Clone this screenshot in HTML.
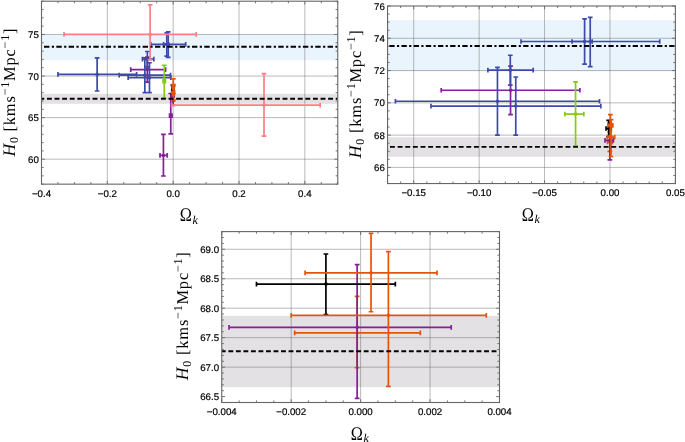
<!DOCTYPE html>
<html><head><meta charset="utf-8"><title>H0 vs Omega_k</title>
<style>
html,body{margin:0;padding:0;background:#fff;}
svg{display:block;text-rendering:geometricPrecision}
.tl{font-family:"Liberation Sans",sans-serif;font-size:9.7px;fill:#000;stroke:#000;stroke-width:0.2px;}
.al{font-family:"Liberation Serif",serif;font-size:16.5px;fill:#000;}
.yl{letter-spacing:0.78px}
.om{font-family:"Liberation Serif",serif;font-size:19.2px;fill:#000}
.sub{font-family:"Liberation Serif",serif;font-size:12px;font-style:italic;fill:#000}
.sub2{font-size:12px;}
</style></head><body>
<svg width="685" height="442" viewBox="0 0 685 442">
<rect width="685" height="442" fill="#fff"/>
<clipPath id="c0"><rect x="41.5" y="1.2" width="296.25" height="182.95"/></clipPath>
<g clip-path="url(#c0)">
<rect x="41.5" y="34.46" width="296.25" height="25.78" fill="#cfe6fa" fill-opacity="0.45"/>
<rect x="41.5" y="93.76" width="296.25" height="10.06" fill="#c1bdc1" fill-opacity="0.45"/>
<line x1="107.33" y1="1.2" x2="107.33" y2="184.15" stroke="#666" stroke-opacity="0.5" stroke-width="0.9"/>
<line x1="173.17" y1="1.2" x2="173.17" y2="184.15" stroke="#666" stroke-opacity="0.5" stroke-width="0.9"/>
<line x1="239" y1="1.2" x2="239" y2="184.15" stroke="#666" stroke-opacity="0.5" stroke-width="0.9"/>
<line x1="304.83" y1="1.2" x2="304.83" y2="184.15" stroke="#666" stroke-opacity="0.5" stroke-width="0.9"/>
<line x1="41.5" y1="159.2" x2="337.75" y2="159.2" stroke="#666" stroke-opacity="0.5" stroke-width="0.9"/>
<line x1="41.5" y1="117.62" x2="337.75" y2="117.62" stroke="#666" stroke-opacity="0.5" stroke-width="0.9"/>
<line x1="41.5" y1="76.04" x2="337.75" y2="76.04" stroke="#666" stroke-opacity="0.5" stroke-width="0.9"/>
<line x1="41.5" y1="34.46" x2="337.75" y2="34.46" stroke="#666" stroke-opacity="0.5" stroke-width="0.9"/>
<path d="M57.96 74.38H136.63M97.13 91.01V57.91M57.96 72.03V76.73M136.63 72.03V76.73M94.78 91.01H99.48M94.78 57.91H99.48" stroke="#3f49aa" stroke-width="1.7" fill="none"/><circle cx="97.13" cy="74.38" r="1.8" fill="#3f49aa"/>
<path d="M160 155.46H167.24M163.42 176V134.42M160 153.11V157.81M167.24 153.11V157.81M161.07 176H165.77M161.07 134.42H165.77" stroke="#83209a" stroke-width="1.7" fill="none"/><circle cx="163.42" cy="155.46" r="1.8" fill="#83209a"/>
<path d="M169.55 115.63H172.01M170.76 133.84V93.51M169.55 113.28V117.98M172.01 113.28V117.98M168.41 133.84H173.11M168.41 93.51H173.11" stroke="#83209a" stroke-width="1.7" fill="none"/><circle cx="170.76" cy="115.63" r="1.8" fill="#83209a"/>
<path d="M130.7 69.56H165.6M147.33 82.11V57.08M130.7 67.21V71.91M165.6 67.21V71.91M144.98 82.11H149.68M144.98 57.08H149.68" stroke="#83209a" stroke-width="1.7" fill="none"/><circle cx="147.33" cy="69.56" r="1.8" fill="#83209a"/>
<path d="M119.18 75.21H170.53M144.86 92.67V57.75M119.18 72.86V77.56M170.53 72.86V77.56M142.51 92.67H147.21M142.51 57.75H147.21" stroke="#3f49aa" stroke-width="1.7" fill="none"/><circle cx="144.86" cy="75.21" r="1.8" fill="#3f49aa"/>
<path d="M128.14 77.71H170.86M149.47 92.67V62.74M128.14 75.36V80.06M170.86 75.36V80.06M147.12 92.67H151.82M147.12 62.74H151.82" stroke="#3f49aa" stroke-width="1.7" fill="none"/><circle cx="149.47" cy="77.71" r="1.8" fill="#3f49aa"/>
<path d="M142.46 59.16H153.84M147.33 66.9V51.51M142.46 56.81V61.51M153.84 56.81V61.51M144.98 66.9H149.68M144.98 51.51H149.68" stroke="#3f49aa" stroke-width="1.7" fill="none"/><circle cx="147.33" cy="59.16" r="1.8" fill="#3f49aa"/>
<path d="M150.78 44.44H185.67M166.78 56.08V32.8M150.78 42.09V46.79M185.67 42.09V46.79M164.43 56.08H169.13M164.43 32.8H169.13" stroke="#3f49aa" stroke-width="1.7" fill="none"/><circle cx="166.78" cy="44.44" r="1.8" fill="#3f49aa"/>
<path d="M163.62 44.44H168.69M168.2 57.42V31.97M163.62 42.09V46.79M168.69 42.09V46.79M165.85 57.42H170.55M165.85 31.97H170.55" stroke="#3f49aa" stroke-width="1.7" fill="none"/><circle cx="168.2" cy="44.44" r="1.8" fill="#3f49aa"/>
<path d="M163.09 81.03H165.46M164.28 98.25V65.23M163.09 78.68V83.38M165.46 78.68V83.38M161.93 98.25H166.63M161.93 65.23H166.63" stroke="#86c91c" stroke-width="1.7" fill="none"/><circle cx="164.28" cy="81.03" r="1.8" fill="#86c91c"/>
<path d="M172.54 96.17H173.73M173.13 101.07V91.01M172.54 93.82V98.52M173.73 93.82V98.52M170.78 101.07H175.48M170.78 91.01H175.48" stroke="#e4540c" stroke-width="1.7" fill="none"/><circle cx="173.13" cy="96.17" r="1.8" fill="#e4540c"/>
<path d="M171.92 95.38H174.03M173.13 105.4V86.52M171.92 93.03V97.73M174.03 93.03V97.73M170.78 105.4H175.48M170.78 86.52H175.48" stroke="#83209a" stroke-width="1.7" fill="none"/><circle cx="173.13" cy="95.38" r="1.8" fill="#83209a"/>
<path d="M172.18 89.27H173.5M172.84 93.59V85.02M172.18 86.92V91.62M173.5 86.92V91.62M170.49 93.59H175.19M170.49 85.02H175.19" stroke="#000" stroke-width="1.7" fill="none"/><circle cx="172.84" cy="89.27" r="1.8" fill="#000"/>
<path d="M172.51 93.67H174.36M173.43 99.74V84.69M172.51 91.32V96.02M174.36 91.32V96.02M171.08 99.74H175.78M171.08 84.69H175.78" stroke="#e4540c" stroke-width="1.7" fill="none"/><circle cx="173.43" cy="93.67" r="1.8" fill="#e4540c"/>
<path d="M172.64 87.69H173.89M173.27 93.17V78.87M172.64 85.34V90.04M173.89 85.34V90.04M170.92 93.17H175.62M170.92 78.87H175.62" stroke="#e4540c" stroke-width="1.7" fill="none"/><circle cx="173.27" cy="87.69" r="1.8" fill="#e4540c"/>
<path d="M64.02 34.46H196.21M150.12 59.83V4.78M64.02 32.11V36.81M196.21 32.11V36.81M147.78 59.83H152.47M147.78 4.78H152.47" stroke="#fa7f86" stroke-width="1.7" fill="none"/><circle cx="150.12" cy="34.46" r="1.8" fill="#fa7f86"/>
<path d="M171.52 105.15H320.17M264.02 136.17V73.55M171.52 102.8V107.5M320.17 102.8V107.5M261.67 136.17H266.37M261.67 73.55H266.37" stroke="#fa7f86" stroke-width="1.7" fill="none"/><circle cx="264.02" cy="105.15" r="1.8" fill="#fa7f86"/>
<line x1="41.5" y1="46.77" x2="337.75" y2="46.77" stroke="#000" stroke-width="1.85" stroke-dasharray="5.4 2.4 2.2 2.33" stroke-dashoffset="9.83"/>
<line x1="41.5" y1="98.75" x2="337.75" y2="98.75" stroke="#000" stroke-width="1.85" stroke-dasharray="4.9 2.7" stroke-dashoffset="2.15"/>
</g>
<path d="M41.5 184.15v-3.3M41.5 1.2v3.3M57.96 184.15v-2.1M57.96 1.2v2.1M74.42 184.15v-2.1M74.42 1.2v2.1M90.88 184.15v-2.1M90.88 1.2v2.1M107.33 184.15v-3.3M107.33 1.2v3.3M123.79 184.15v-2.1M123.79 1.2v2.1M140.25 184.15v-2.1M140.25 1.2v2.1M156.71 184.15v-2.1M156.71 1.2v2.1M173.17 184.15v-3.3M173.17 1.2v3.3M189.62 184.15v-2.1M189.62 1.2v2.1M206.08 184.15v-2.1M206.08 1.2v2.1M222.54 184.15v-2.1M222.54 1.2v2.1M239 184.15v-3.3M239 1.2v3.3M255.46 184.15v-2.1M255.46 1.2v2.1M271.92 184.15v-2.1M271.92 1.2v2.1M288.38 184.15v-2.1M288.38 1.2v2.1M304.83 184.15v-3.3M304.83 1.2v3.3M321.29 184.15v-2.1M321.29 1.2v2.1M337.75 184.15v-2.1M337.75 1.2v2.1M41.5 184.15h2.1M337.75 184.15h-2.1M41.5 175.83h2.1M337.75 175.83h-2.1M41.5 167.52h2.1M337.75 167.52h-2.1M41.5 159.2h3.3M337.75 159.2h-3.3M41.5 150.89h2.1M337.75 150.89h-2.1M41.5 142.57h2.1M337.75 142.57h-2.1M41.5 134.25h2.1M337.75 134.25h-2.1M41.5 125.94h2.1M337.75 125.94h-2.1M41.5 117.62h3.3M337.75 117.62h-3.3M41.5 109.31h2.1M337.75 109.31h-2.1M41.5 100.99h2.1M337.75 100.99h-2.1M41.5 92.67h2.1M337.75 92.67h-2.1M41.5 84.36h2.1M337.75 84.36h-2.1M41.5 76.04h3.3M337.75 76.04h-3.3M41.5 67.73h2.1M337.75 67.73h-2.1M41.5 59.41h2.1M337.75 59.41h-2.1M41.5 51.1h2.1M337.75 51.1h-2.1M41.5 42.78h2.1M337.75 42.78h-2.1M41.5 34.46h3.3M337.75 34.46h-3.3M41.5 26.15h2.1M337.75 26.15h-2.1M41.5 17.83h2.1M337.75 17.83h-2.1M41.5 9.52h2.1M337.75 9.52h-2.1M41.5 1.2h2.1M337.75 1.2h-2.1" stroke="#666" stroke-width="0.9" fill="none"/>
<rect x="41.5" y="1.2" width="296.25" height="182.95" fill="none" stroke="#666" stroke-width="1.1"/>
<text class="tl" x="41.5" y="196.95" text-anchor="middle">−0.4</text>
<text class="tl" x="107.33" y="196.95" text-anchor="middle">−0.2</text>
<text class="tl" x="173.17" y="196.95" text-anchor="middle">0.0</text>
<text class="tl" x="239" y="196.95" text-anchor="middle">0.2</text>
<text class="tl" x="304.83" y="196.95" text-anchor="middle">0.4</text>
<text class="tl" x="38.8" y="162.7" text-anchor="end">60</text>
<text class="tl" x="38.8" y="121.12" text-anchor="end">65</text>
<text class="tl" x="38.8" y="79.54" text-anchor="end">70</text>
<text class="tl" x="38.8" y="37.96" text-anchor="end">75</text>
<text class="om" transform="translate(191.93,221.15) scale(0.85,1)" text-anchor="end">Ω</text><text class="sub" x="192.62" y="223.55">k</text>
<text class="al yl" transform="translate(14.6,92.2) rotate(-90)" text-anchor="middle"><tspan font-style="italic" font-size="17.6">H</tspan><tspan class="sub2" dy="3.5">0</tspan><tspan dy="-3.5"> [kms</tspan><tspan class="sub2" dy="-6">−1</tspan><tspan dy="6">Mpc</tspan><tspan class="sub2" dy="-6">−1</tspan><tspan dy="6">]</tspan></text>
<clipPath id="c1"><rect x="387.55" y="6" width="287.85" height="177.55"/></clipPath>
<g clip-path="url(#c1)">
<rect x="387.55" y="19.88" width="287.85" height="51.49" fill="#cfe6fa" fill-opacity="0.45"/>
<rect x="387.55" y="137.23" width="287.85" height="19.53" fill="#c1bdc1" fill-opacity="0.45"/>
<line x1="413.72" y1="6" x2="413.72" y2="183.55" stroke="#666" stroke-opacity="0.5" stroke-width="0.9"/>
<line x1="479.14" y1="6" x2="479.14" y2="183.55" stroke="#666" stroke-opacity="0.5" stroke-width="0.9"/>
<line x1="544.56" y1="6" x2="544.56" y2="183.55" stroke="#666" stroke-opacity="0.5" stroke-width="0.9"/>
<line x1="609.98" y1="6" x2="609.98" y2="183.55" stroke="#666" stroke-opacity="0.5" stroke-width="0.9"/>
<line x1="387.55" y1="167.41" x2="675.4" y2="167.41" stroke="#666" stroke-opacity="0.5" stroke-width="0.9"/>
<line x1="387.55" y1="135.13" x2="675.4" y2="135.13" stroke="#666" stroke-opacity="0.5" stroke-width="0.9"/>
<line x1="387.55" y1="102.85" x2="675.4" y2="102.85" stroke="#666" stroke-opacity="0.5" stroke-width="0.9"/>
<line x1="387.55" y1="70.56" x2="675.4" y2="70.56" stroke="#666" stroke-opacity="0.5" stroke-width="0.9"/>
<line x1="387.55" y1="38.28" x2="675.4" y2="38.28" stroke="#666" stroke-opacity="0.5" stroke-width="0.9"/>
<path d="M441.19 90.26H579.89M510.54 114.63V66.04M441.19 87.91V92.61M579.89 87.91V92.61M508.19 114.63H512.89M508.19 66.04H512.89" stroke="#83209a" stroke-width="1.7" fill="none"/><circle cx="510.54" cy="90.26" r="1.8" fill="#83209a"/>
<path d="M395.4 101.23H599.51M497.46 135.13V67.34M395.4 98.88V103.58M599.51 98.88V103.58M495.11 135.13H499.81M495.11 67.34H499.81" stroke="#3f49aa" stroke-width="1.7" fill="none"/><circle cx="497.46" cy="101.23" r="1.8" fill="#3f49aa"/>
<path d="M430.99 106.07H600.82M515.77 135.13V77.02M430.99 103.72V108.42M600.82 103.72V108.42M513.42 135.13H518.12M513.42 77.02H518.12" stroke="#3f49aa" stroke-width="1.7" fill="none"/><circle cx="515.77" cy="106.07" r="1.8" fill="#3f49aa"/>
<path d="M487.9 70.08H533.18M510.28 85.09V55.23M487.9 67.73V72.43M533.18 67.73V72.43M507.93 85.09H512.63M507.93 55.23H512.63" stroke="#3f49aa" stroke-width="1.7" fill="none"/><circle cx="510.28" cy="70.08" r="1.8" fill="#3f49aa"/>
<path d="M521.01 41.51H659.7M584.6 64.11V18.91M521.01 39.16V43.86M659.7 39.16V43.86M582.25 64.11H586.95M582.25 18.91H586.95" stroke="#3f49aa" stroke-width="1.7" fill="none"/><circle cx="584.6" cy="41.51" r="1.8" fill="#3f49aa"/>
<path d="M572.04 41.51H592.19M590.22 66.69V17.3M572.04 39.16V43.86M592.19 39.16V43.86M587.87 66.69H592.57M587.87 17.3H592.57" stroke="#3f49aa" stroke-width="1.7" fill="none"/><circle cx="590.22" cy="41.51" r="1.8" fill="#3f49aa"/>
<path d="M564.84 114.14H583.81M575.57 145.94V81.86M564.84 111.79V116.49M583.81 111.79V116.49M573.22 145.94H577.92M573.22 81.86H577.92" stroke="#86c91c" stroke-width="1.7" fill="none"/><circle cx="575.57" cy="114.14" r="1.8" fill="#86c91c"/>
<path d="M607.49 141.91H612.23M609.85 151.43V131.9M607.49 139.56V144.26M612.23 139.56V144.26M607.5 151.43H612.2M607.5 131.9H612.2" stroke="#e4540c" stroke-width="1.7" fill="none"/><circle cx="609.85" cy="141.91" r="1.8" fill="#e4540c"/>
<path d="M605.02 140.37H613.39M609.85 159.82V123.18M605.02 138.02V142.72M613.39 138.02V142.72M607.5 159.82H612.2M607.5 123.18H612.2" stroke="#83209a" stroke-width="1.7" fill="none"/><circle cx="609.85" cy="140.37" r="1.8" fill="#83209a"/>
<path d="M606.05 128.51H611.29M608.67 136.9V120.28M606.05 126.16V130.86M611.29 126.16V130.86M606.32 136.9H611.02M606.32 120.28H611.02" stroke="#000" stroke-width="1.7" fill="none"/><circle cx="608.67" cy="128.51" r="1.8" fill="#000"/>
<path d="M607.36 137.06H614.72M611.03 156.51V119.63M607.36 134.71V139.41M614.72 134.71V139.41M608.68 156.51H613.38M608.68 119.63H613.38" stroke="#e4540c" stroke-width="1.7" fill="none"/><circle cx="611.03" cy="137.06" r="1.8" fill="#e4540c"/>
<path d="M607.89 125.44H612.86M610.37 136.1V114.63M607.89 123.09V127.79M612.86 123.09V127.79M608.02 136.1H612.72M608.02 114.63H612.72" stroke="#e4540c" stroke-width="1.7" fill="none"/><circle cx="610.37" cy="125.44" r="1.8" fill="#e4540c"/>
<line x1="387.55" y1="46.03" x2="675.4" y2="46.03" stroke="#000" stroke-width="1.85" stroke-dasharray="5.33 2.37 2.17 2.3" stroke-dashoffset="10.42"/>
<line x1="387.55" y1="146.91" x2="675.4" y2="146.91" stroke="#000" stroke-width="1.85" stroke-dasharray="4.92 2.71" stroke-dashoffset="5.18"/>
</g>
<path d="M387.55 183.55v-2.1M387.55 6v2.1M400.63 183.55v-2.1M400.63 6v2.1M413.72 183.55v-3.3M413.72 6v3.3M426.8 183.55v-2.1M426.8 6v2.1M439.89 183.55v-2.1M439.89 6v2.1M452.97 183.55v-2.1M452.97 6v2.1M466.05 183.55v-2.1M466.05 6v2.1M479.14 183.55v-3.3M479.14 6v3.3M492.22 183.55v-2.1M492.22 6v2.1M505.31 183.55v-2.1M505.31 6v2.1M518.39 183.55v-2.1M518.39 6v2.1M531.47 183.55v-2.1M531.47 6v2.1M544.56 183.55v-3.3M544.56 6v3.3M557.64 183.55v-2.1M557.64 6v2.1M570.73 183.55v-2.1M570.73 6v2.1M583.81 183.55v-2.1M583.81 6v2.1M596.9 183.55v-2.1M596.9 6v2.1M609.98 183.55v-3.3M609.98 6v3.3M623.06 183.55v-2.1M623.06 6v2.1M636.15 183.55v-2.1M636.15 6v2.1M649.23 183.55v-2.1M649.23 6v2.1M662.32 183.55v-2.1M662.32 6v2.1M675.4 183.55v-3.3M675.4 6v3.3M387.55 183.55h2.1M675.4 183.55h-2.1M387.55 175.48h2.1M675.4 175.48h-2.1M387.55 167.41h3.3M675.4 167.41h-3.3M387.55 159.34h2.1M675.4 159.34h-2.1M387.55 151.27h2.1M675.4 151.27h-2.1M387.55 143.2h2.1M675.4 143.2h-2.1M387.55 135.13h3.3M675.4 135.13h-3.3M387.55 127.06h2.1M675.4 127.06h-2.1M387.55 118.99h2.1M675.4 118.99h-2.1M387.55 110.92h2.1M675.4 110.92h-2.1M387.55 102.85h3.3M675.4 102.85h-3.3M387.55 94.78h2.1M675.4 94.78h-2.1M387.55 86.7h2.1M675.4 86.7h-2.1M387.55 78.63h2.1M675.4 78.63h-2.1M387.55 70.56h3.3M675.4 70.56h-3.3M387.55 62.49h2.1M675.4 62.49h-2.1M387.55 54.42h2.1M675.4 54.42h-2.1M387.55 46.35h2.1M675.4 46.35h-2.1M387.55 38.28h3.3M675.4 38.28h-3.3M387.55 30.21h2.1M675.4 30.21h-2.1M387.55 22.14h2.1M675.4 22.14h-2.1M387.55 14.07h2.1M675.4 14.07h-2.1M387.55 6h3.3M675.4 6h-3.3" stroke="#666" stroke-width="0.9" fill="none"/>
<rect x="387.55" y="6" width="287.85" height="177.55" fill="none" stroke="#666" stroke-width="1.1"/>
<text class="tl" x="413.72" y="196.35" text-anchor="middle">−0.15</text>
<text class="tl" x="479.14" y="196.35" text-anchor="middle">−0.10</text>
<text class="tl" x="544.56" y="196.35" text-anchor="middle">−0.05</text>
<text class="tl" x="609.98" y="196.35" text-anchor="middle">0.00</text>
<text class="tl" x="675.4" y="196.35" text-anchor="middle">0.05</text>
<text class="tl" x="384.85" y="170.91" text-anchor="end">66</text>
<text class="tl" x="384.85" y="138.63" text-anchor="end">68</text>
<text class="tl" x="384.85" y="106.35" text-anchor="end">70</text>
<text class="tl" x="384.85" y="74.06" text-anchor="end">72</text>
<text class="tl" x="384.85" y="41.78" text-anchor="end">74</text>
<text class="tl" x="384.85" y="9.5" text-anchor="end">76</text>
<text class="om" transform="translate(533.77,220.55) scale(0.85,1)" text-anchor="end">Ω</text><text class="sub" x="534.48" y="222.95">k</text>
<text class="al yl" transform="translate(360.6,93.8) rotate(-90)" text-anchor="middle"><tspan font-style="italic" font-size="17.6">H</tspan><tspan class="sub2" dy="3.5">0</tspan><tspan dy="-3.5"> [kms</tspan><tspan class="sub2" dy="-6">−1</tspan><tspan dy="6">Mpc</tspan><tspan class="sub2" dy="-6">−1</tspan><tspan dy="6">]</tspan></text>
<clipPath id="c2"><rect x="221.75" y="231.6" width="277.75" height="170.9"/></clipPath>
<g clip-path="url(#c2)">
<rect x="221.75" y="315.87" width="277.75" height="71.31" fill="#c1bdc1" fill-opacity="0.45"/>
<line x1="291.19" y1="231.6" x2="291.19" y2="402.5" stroke="#666" stroke-opacity="0.5" stroke-width="0.9"/>
<line x1="360.62" y1="231.6" x2="360.62" y2="402.5" stroke="#666" stroke-opacity="0.5" stroke-width="0.9"/>
<line x1="430.06" y1="231.6" x2="430.06" y2="402.5" stroke="#666" stroke-opacity="0.5" stroke-width="0.9"/>
<line x1="221.75" y1="367.14" x2="499.5" y2="367.14" stroke="#666" stroke-opacity="0.5" stroke-width="0.9"/>
<line x1="221.75" y1="337.68" x2="499.5" y2="337.68" stroke="#666" stroke-opacity="0.5" stroke-width="0.9"/>
<line x1="221.75" y1="308.21" x2="499.5" y2="308.21" stroke="#666" stroke-opacity="0.5" stroke-width="0.9"/>
<line x1="221.75" y1="278.74" x2="499.5" y2="278.74" stroke="#666" stroke-opacity="0.5" stroke-width="0.9"/>
<line x1="221.75" y1="249.28" x2="499.5" y2="249.28" stroke="#666" stroke-opacity="0.5" stroke-width="0.9"/>
<path d="M294.66 332.96H420.34M357.15 367.73V296.42M294.66 330.61V335.31M420.34 330.61V335.31M354.8 367.73H359.5M354.8 296.42H359.5" stroke="#e4540c" stroke-width="1.7" fill="none"/><circle cx="357.15" cy="332.96" r="1.8" fill="#e4540c"/>
<path d="M229.04 327.36H451.24M357.15 398.37V264.6M229.04 325.01V329.71M451.24 325.01V329.71M354.8 398.37H359.5M354.8 264.6H359.5" stroke="#83209a" stroke-width="1.7" fill="none"/><circle cx="357.15" cy="327.36" r="1.8" fill="#83209a"/>
<path d="M256.47 284.05H395.34M325.91 314.69V253.99M256.47 281.7V286.4M395.34 281.7V286.4M323.56 314.69H328.26M323.56 253.99H328.26" stroke="#000" stroke-width="1.7" fill="none"/><circle cx="325.91" cy="284.05" r="1.8" fill="#000"/>
<path d="M291.19 315.28H486.31M388.4 386.29V251.64M291.19 312.93V317.63M486.31 312.93V317.63M386.05 386.29H390.75M386.05 251.64H390.75" stroke="#e4540c" stroke-width="1.7" fill="none"/><circle cx="388.4" cy="315.28" r="1.8" fill="#e4540c"/>
<path d="M305.08 272.85H437.01M371.04 311.75V233.37M305.08 270.5V275.2M437.01 270.5V275.2M368.69 311.75H373.39M368.69 233.37H373.39" stroke="#e4540c" stroke-width="1.7" fill="none"/><circle cx="371.04" cy="272.85" r="1.8" fill="#e4540c"/>
<line x1="221.75" y1="351.23" x2="499.5" y2="351.23" stroke="#000" stroke-width="1.85" stroke-dasharray="4.85 2.67" stroke-dashoffset="0.87"/>
</g>
<path d="M221.75 402.5v-3.3M221.75 231.6v3.3M239.11 402.5v-2.1M239.11 231.6v2.1M256.47 402.5v-2.1M256.47 231.6v2.1M273.83 402.5v-2.1M273.83 231.6v2.1M291.19 402.5v-3.3M291.19 231.6v3.3M308.55 402.5v-2.1M308.55 231.6v2.1M325.91 402.5v-2.1M325.91 231.6v2.1M343.27 402.5v-2.1M343.27 231.6v2.1M360.62 402.5v-3.3M360.62 231.6v3.3M377.98 402.5v-2.1M377.98 231.6v2.1M395.34 402.5v-2.1M395.34 231.6v2.1M412.7 402.5v-2.1M412.7 231.6v2.1M430.06 402.5v-3.3M430.06 231.6v3.3M447.42 402.5v-2.1M447.42 231.6v2.1M464.78 402.5v-2.1M464.78 231.6v2.1M482.14 402.5v-2.1M482.14 231.6v2.1M499.5 402.5v-3.3M499.5 231.6v3.3M221.75 402.5h2.1M499.5 402.5h-2.1M221.75 396.61h3.3M499.5 396.61h-3.3M221.75 390.71h2.1M499.5 390.71h-2.1M221.75 384.82h2.1M499.5 384.82h-2.1M221.75 378.93h2.1M499.5 378.93h-2.1M221.75 373.03h2.1M499.5 373.03h-2.1M221.75 367.14h3.3M499.5 367.14h-3.3M221.75 361.25h2.1M499.5 361.25h-2.1M221.75 355.36h2.1M499.5 355.36h-2.1M221.75 349.46h2.1M499.5 349.46h-2.1M221.75 343.57h2.1M499.5 343.57h-2.1M221.75 337.68h3.3M499.5 337.68h-3.3M221.75 331.78h2.1M499.5 331.78h-2.1M221.75 325.89h2.1M499.5 325.89h-2.1M221.75 320h2.1M499.5 320h-2.1M221.75 314.1h2.1M499.5 314.1h-2.1M221.75 308.21h3.3M499.5 308.21h-3.3M221.75 302.32h2.1M499.5 302.32h-2.1M221.75 296.42h2.1M499.5 296.42h-2.1M221.75 290.53h2.1M499.5 290.53h-2.1M221.75 284.64h2.1M499.5 284.64h-2.1M221.75 278.74h3.3M499.5 278.74h-3.3M221.75 272.85h2.1M499.5 272.85h-2.1M221.75 266.96h2.1M499.5 266.96h-2.1M221.75 261.07h2.1M499.5 261.07h-2.1M221.75 255.17h2.1M499.5 255.17h-2.1M221.75 249.28h3.3M499.5 249.28h-3.3M221.75 243.39h2.1M499.5 243.39h-2.1M221.75 237.49h2.1M499.5 237.49h-2.1M221.75 231.6h2.1M499.5 231.6h-2.1" stroke="#666" stroke-width="0.9" fill="none"/>
<rect x="221.75" y="231.6" width="277.75" height="170.9" fill="none" stroke="#666" stroke-width="1.1"/>
<text class="tl" x="221.75" y="415.3" text-anchor="middle">−0.004</text>
<text class="tl" x="291.19" y="415.3" text-anchor="middle">−0.002</text>
<text class="tl" x="360.62" y="415.3" text-anchor="middle">0.000</text>
<text class="tl" x="430.06" y="415.3" text-anchor="middle">0.002</text>
<text class="tl" x="499.5" y="415.3" text-anchor="middle">0.004</text>
<text class="tl" x="219.05" y="400.11" text-anchor="end">66.5</text>
<text class="tl" x="219.05" y="370.64" text-anchor="end">67.0</text>
<text class="tl" x="219.05" y="341.18" text-anchor="end">67.5</text>
<text class="tl" x="219.05" y="311.71" text-anchor="end">68.0</text>
<text class="tl" x="219.05" y="282.24" text-anchor="end">68.5</text>
<text class="tl" x="219.05" y="252.78" text-anchor="end">69.0</text>
<text class="om" transform="translate(362.93,439.5) scale(0.85,1)" text-anchor="end">Ω</text><text class="sub" x="363.62" y="441.9">k</text>
<text class="al yl" transform="translate(187.6,315.8) rotate(-90)" text-anchor="middle"><tspan font-style="italic" font-size="17.6">H</tspan><tspan class="sub2" dy="3.5">0</tspan><tspan dy="-3.5"> [kms</tspan><tspan class="sub2" dy="-6">−1</tspan><tspan dy="6">Mpc</tspan><tspan class="sub2" dy="-6">−1</tspan><tspan dy="6">]</tspan></text>
</svg>
</body></html>
